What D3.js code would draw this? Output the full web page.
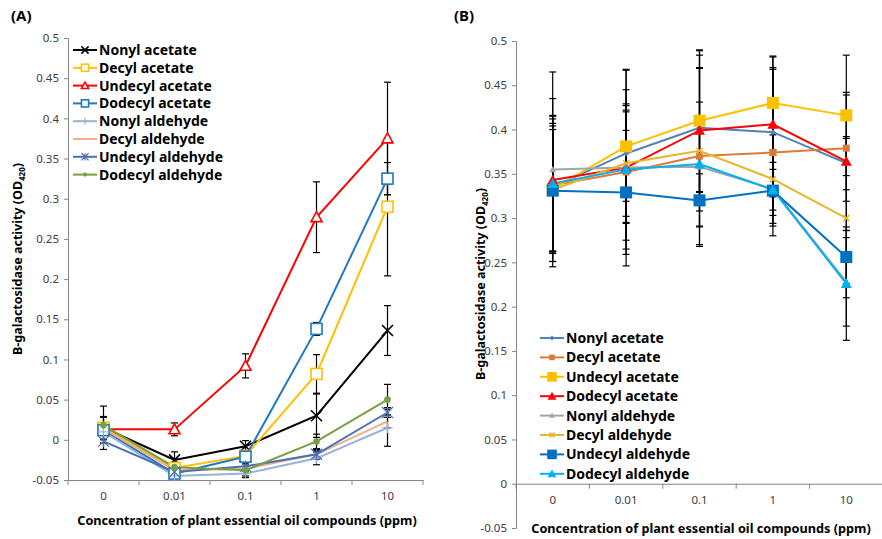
<html>
<head>
<style>
  body { margin: 0; background: #fff; }
  text { font-family: "Noto Sans", "DejaVu Sans", sans-serif; }
</style>
</head>
<body>
<svg id="chart" width="882" height="539"></svg>
<script src="https://d3js.org/d3.v7.min.js"></script>
<script>
// categories and series
const categories = ["0", "0.01", "0.1", "1", "10"];
const seriesNames = ["Nonyl acetate", "Decyl acetate", "Undecyl acetate", "Dodecyl acetate",
                     "Nonyl aldehyde", "Decyl aldehyde", "Undecyl aldehyde", "Dodecyl aldehyde"];
const yTicks = [-0.05, 0, 0.05, 0.1, 0.15, 0.2, 0.25, 0.3, 0.35, 0.4, 0.45, 0.5];

// panel (A) values and error bars (same order as seriesNames)
const valuesA = [
  [0.015, -0.025, -0.008, 0.030, 0.136],
  [0.015, -0.035, -0.020, 0.082, 0.290],
  [0.013, 0.013, 0.092, 0.277, 0.375],
  [0.012, -0.042, -0.021, 0.138, 0.325],
  [0.010, -0.045, -0.042, -0.023, 0.015],
  [0.014, -0.038, -0.036, -0.018, 0.023],
  [-0.002, -0.040, -0.033, -0.018, 0.034],
  [0.018, -0.034, -0.038, -0.002, 0.050]
];
const errorsA = [
  [0.027, 0.010, 0.007, 0.027, 0.031],
  [0.014, 0.004, 0.004, 0.024, 0.086],
  [0.004, 0.008, 0.015, 0.044, 0.070],
  [0.004, 0.003, 0.004, 0.008, 0.020],
  [0.003, 0.003, 0.003, 0.008, 0.023],
  [0.003, 0.003, 0.003, 0.006, 0.008],
  [0.002, 0.003, 0.003, 0.005, 0.006],
  [0.010, 0.004, 0.009, 0.009, 0.019]
];

// panel (B) values and error bars
const valuesB = [
  [0.335, 0.373, 0.402, 0.397, 0.362],
  [0.337, 0.352, 0.370, 0.374, 0.379],
  [0.333, 0.381, 0.410, 0.430, 0.416],
  [0.343, 0.357, 0.399, 0.406, 0.364],
  [0.355, 0.357, 0.358, 0.333, 0.228],
  [0.332, 0.362, 0.376, 0.344, 0.300],
  [0.331, 0.329, 0.320, 0.331, 0.256],
  [0.339, 0.355, 0.361, 0.332, 0.226]
];
const errorsB = [
  [0.072, 0.054, 0.087, 0.073, 0.030],
  [0.075, 0.077, 0.100, 0.094, 0.060],
  [0.082, 0.086, 0.080, 0.053, 0.068],
  [0.092, 0.063, 0.070, 0.076, 0.078],
  [0.110, 0.111, 0.050, 0.030, 0.050],
  [0.072, 0.060, 0.108, 0.050, 0.090],
  [0.069, 0.070, 0.030, 0.040, 0.030],
  [0.077, 0.090, 0.070, 0.023, 0.064]
];

const stylesA = [
  { color: "#000000", marker: "x" },
  { color: "#ffc000", marker: "openSquare" },
  { color: "#ff0000", marker: "openTriangle" },
  { color: "#1f78c1", marker: "openSquare" },
  { color: "#95b3d7", marker: "plus" },
  { color: "#f4ab8c", marker: "none" },
  { color: "#4a6fb5", marker: "star" },
  { color: "#77a043", marker: "dot" }
];
const stylesB = [
  { color: "#4f81bd", marker: "diamond", size: 3 },
  { color: "#dd7a38", marker: "square", size: 3.5 },
  { color: "#ffc000", marker: "square", size: 6 },
  { color: "#ff0000", marker: "triangle", size: 5.5 },
  { color: "#a5a5a5", marker: "triangle", size: 3.5 },
  { color: "#e8b62e", marker: "x", size: 3 },
  { color: "#0070c0", marker: "square", size: 6 },
  { color: "#00b0f0", marker: "triangle", size: 5.5 }
];

const svg = d3.select("#chart");

function drawMarker(g, type, color, x, y, s) {
  if (type === "none") return;
  if (type === "x") {
    g.append("path").attr("d", `M${x-s},${y-s}L${x+s},${y+s}M${x-s},${y+s}L${x+s},${y-s}`)
      .attr("stroke", color).attr("stroke-width", 1.6).attr("fill", "none");
  } else if (type === "plus") {
    g.append("path").attr("d", `M${x-s},${y}L${x+s},${y}M${x},${y-s}L${x},${y+s}`)
      .attr("stroke", color).attr("stroke-width", 1.2).attr("fill", "none");
  } else if (type === "star") {
    g.append("path").attr("d", `M${x-s},${y-s}L${x+s},${y+s}M${x-s},${y+s}L${x+s},${y-s}M${x},${y-s}L${x},${y+s}`)
      .attr("stroke", color).attr("stroke-width", 1.2).attr("fill", "none");
  } else if (type === "openSquare") {
    g.append("rect").attr("x", x - s).attr("y", y - s).attr("width", 2 * s).attr("height", 2 * s)
      .attr("fill", "#fff").attr("stroke", color).attr("stroke-width", 1.6);
  } else if (type === "openTriangle") {
    g.append("path").attr("d", `M${x},${y-s}L${x+s},${y+s*0.8}L${x-s},${y+s*0.8}Z`)
      .attr("fill", "#fff").attr("stroke", color).attr("stroke-width", 1.6);
  } else if (type === "dot") {
    g.append("circle").attr("cx", x).attr("cy", y).attr("r", s * 0.6).attr("fill", color);
  } else if (type === "square") {
    g.append("rect").attr("x", x - s).attr("y", y - s).attr("width", 2 * s).attr("height", 2 * s)
      .attr("fill", color);
  } else if (type === "triangle") {
    g.append("path").attr("d", `M${x},${y-s}L${x+s},${y+s*0.8}L${x-s},${y+s*0.8}Z`).attr("fill", color);
  } else if (type === "diamond") {
    g.append("path").attr("d", `M${x},${y-s}L${x+s},${y}L${x},${y+s}L${x-s},${y}Z`).attr("fill", color);
  }
}

function yTitle(x, y) {
  const t = svg.append("text").attr("transform", `translate(${x},${y}) rotate(-90)`)
    .attr("text-anchor", "middle").attr("font-size", 12.5).attr("font-weight", "bold").attr("fill", "#000");
  t.append("tspan").text("B-galactosidase activity (OD");
  t.append("tspan").attr("font-size", 8).attr("dy", 3).text("420");
  t.append("tspan").attr("dy", -3).text(")");
}

function drawPanel(opt) {
  const x = d3.scaleBand().domain(categories).range([opt.left, opt.right]).padding(0);
  const y = d3.scaleLinear().domain([-0.05, 0.5]).range([opt.bottom, opt.top]);
  const cx = c => x(c) + x.bandwidth() / 2;
  const g = svg.append("g");

  // y axis
  const yAxis = d3.axisLeft(y).tickValues(yTicks).tickSize(4).tickPadding(5)
    .tickFormat(d => String(+d.toFixed(2)));
  const ya = g.append("g").attr("transform", `translate(${opt.left},0)`).call(yAxis);
  ya.select(".domain").attr("stroke", "#868686");
  ya.selectAll(".tick line").attr("stroke", "#868686");
  ya.selectAll(".tick text").attr("fill", "#404040").attr("font-size", 11.5)
    .attr("font-family", "'Noto Sans', sans-serif");

  // x axis (labels only, ticks at band boundaries)
  const xAxisY = y(opt.xAxisAt);
  const xAxis = d3.axisBottom(x).tickSize(0).tickPadding(opt.labelPad);
  const xa = g.append("g").attr("transform", `translate(0,${xAxisY})`).call(xAxis);
  xa.select(".domain").attr("stroke", "#868686");
  xa.selectAll(".tick text").attr("fill", "#404040").attr("font-size", 11.5)
    .attr("font-family", "'Noto Sans', sans-serif");
  const bounds = categories.map(c => x(c)).concat([x(categories[categories.length - 1]) + x.bandwidth()]);
  g.selectAll(".bt").data(bounds).join("line")
    .attr("x1", d => d).attr("x2", d => d).attr("y1", xAxisY).attr("y2", xAxisY + 5)
    .attr("stroke", "#868686");

  // error bars
  opt.values.forEach((vals, i) => {
    vals.forEach((v, j) => {
      const e = opt.errors[i][j];
      const px = cx(categories[j]);
      g.append("line").attr("x1", px).attr("x2", px).attr("y1", y(v - e)).attr("y2", y(v + e))
        .attr("stroke", "#000").attr("stroke-width", 1.2);
      [v - e, v + e].forEach(w => {
        g.append("line").attr("x1", px - 3.5).attr("x2", px + 3.5).attr("y1", y(w)).attr("y2", y(w))
          .attr("stroke", "#000").attr("stroke-width", 1.2);
      });
    });
  });

  // lines
  const line = d3.line().x((d, j) => cx(categories[j])).y(d => y(d));
  opt.values.forEach((vals, i) => {
    g.append("path").datum(vals).attr("d", line).attr("fill", "none")
      .attr("stroke", opt.styles[i].color).attr("stroke-width", opt.lineWidth);
  });

  // markers
  opt.values.forEach((vals, i) => {
    const st = opt.styles[i];
    vals.forEach((v, j) => drawMarker(g, st.marker, st.color, cx(categories[j]), y(v), st.size || opt.markerSize));
  });

  // legend
  const lg = g.append("g");
  seriesNames.forEach((name, i) => {
    const ly = opt.legendY + i * opt.legendStep;
    const st = opt.styles[i];
    lg.append("line").attr("x1", opt.legendX).attr("x2", opt.legendX + 24).attr("y1", ly).attr("y2", ly)
      .attr("stroke", st.color).attr("stroke-width", opt.lineWidth);
    drawMarker(lg, st.marker, st.color, opt.legendX + 12, ly, (st.size || opt.markerSize) * opt.legendMarkerScale);
    lg.append("text").attr("x", opt.legendX + 26).attr("y", ly).attr("dy", "0.35em")
      .attr("font-size", 14).attr("font-weight", "bold").attr("fill", "#000").text(name);
  });

  // x title
  svg.append("text").attr("x", opt.xTitleX).attr("y", opt.xTitleY).attr("text-anchor", "middle")
    .attr("font-size", 12.7).attr("font-weight", "bold").attr("fill", "#000")
    .text("Concentration of plant essential oil compounds (ppm)");
}

drawPanel({
  left: 68, right: 423, top: 38, bottom: 480, xAxisAt: -0.05, labelPad: 12,
  values: valuesA, errors: errorsA, styles: stylesA, lineWidth: 2, markerSize: 5.5, legendMarkerScale: 0.65,
  legendX: 73, legendY: 50, legendStep: 17.8, xTitleX: 247, xTitleY: 525
});
drawPanel({
  left: 516, right: 883, top: 41, bottom: 528, xAxisAt: 0, labelPad: 12,
  values: valuesB, errors: errorsB, styles: stylesB, lineWidth: 2, markerSize: 5, legendMarkerScale: 0.8,
  legendX: 540, legendY: 338, legendStep: 19.4, xTitleX: 701, xTitleY: 533
});

yTitle(22, 259);
yTitle(485, 284);

svg.append("text").attr("x", 11).attr("y", 21).attr("font-size", 15).attr("font-weight", "bold").text("(A)");
svg.append("text").attr("x", 454).attr("y", 21).attr("font-size", 15).attr("font-weight", "bold").text("(B)");
</script>
</body>
</html>
